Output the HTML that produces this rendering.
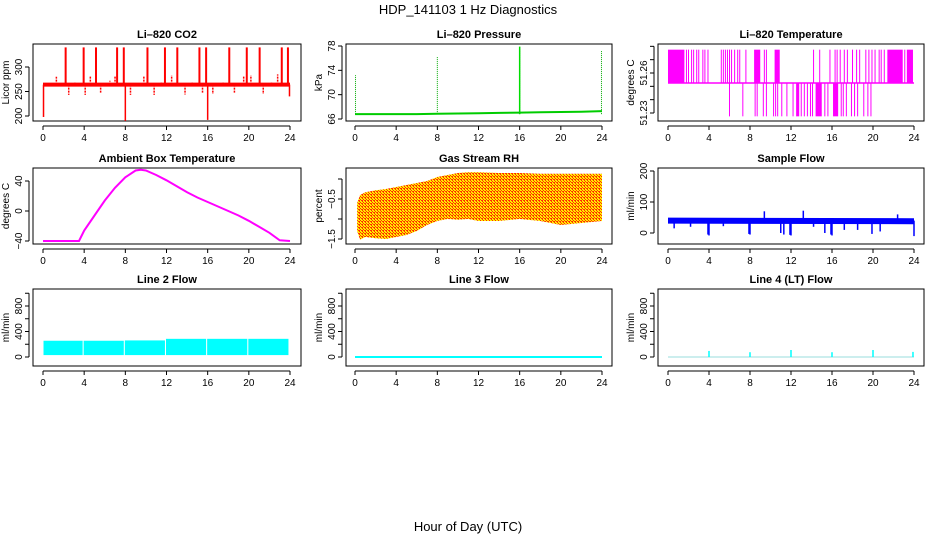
<!DOCTYPE html>
<html><head><meta charset="utf-8">
<style>
html,body{margin:0;padding:0;background:#fff;}
svg{display:block;font-family:"Liberation Sans",sans-serif;}
</style></head>
<body>
<svg id="chart" width="936" height="540" viewBox="0 0 936 540" xmlns="http://www.w3.org/2000/svg">
<defs>
<pattern id="rhpat" width="3" height="3" patternUnits="userSpaceOnUse">
<rect width="3" height="3" fill="#ff3000"/>
<rect x="0" y="0" width="2" height="1" fill="#ffee00"/>
<rect x="1" y="1" width="2" height="1" fill="#ffee00"/>
<rect x="0" y="2" width="1" height="1" fill="#ffee00"/>
</pattern>
</defs>
<text x="468" y="14" text-anchor="middle" font-size="13">HDP_141103  1 Hz Diagnostics</text>
<text x="468" y="531" text-anchor="middle" font-size="13">Hour of Day (UTC)</text>
</svg>
<script>
// ---------- data ----------
const xTicks=[0,4,8,12,16,20,24];
const co2Base=[[0,264],[24,264]];
const co2SpikeHours=[2.2,3.95,5.15,7.2,7.85,10.15,11.85,13.05,15.2,15.85,18.1,19.8,21.05,23.2,23.8];
const co2SpikeValues=[340,340,340,340,340,340,340,340,340,340,340,340,340,340,340];
const co2BumpHours=[1.3,2.5,3.1,4.1,4.6,5.6,6.5,7.0,8.5,9.8,10.8,11.5,12.5,13.8,14.5,15.5,16.5,17.5,18.6,19.5,20.2,21.4,22.2,22.8];
const co2BumpValues=[280,243,268,243,282,246,272,282,243,282,243,270,283,244,270,246,245,270,246,281,283,245,270,285];
const co2DipHours=[0.05,8.0,16.0,23.95];
const co2DipValues=[198,190,192,240];
const presHours=[0,2,4,6,8,10,12,14,16,18,20,22,24];
const presValues=[66.8,66.8,66.8,66.8,66.85,66.9,66.95,67.0,67.05,67.1,67.15,67.2,67.3];
const presSpikeHours=[0.05,8.0,16.0,23.95];
const presSpikeValues=[73.2,76.2,77.9,77.2];
const tempMid=51.2525, tempHigh=51.2775, tempLow=51.2275;
const tempHighBlocks=[[0,1.6],[8.4,9.0],[10.4,10.9],[21.4,22.9],[23.3,23.9]];
const tempHighHours=[1.8,2.0,2.3,2.5,2.8,3.0,3.4,3.6,3.9,5.2,5.4,5.6,5.8,6.0,6.2,6.5,6.8,7.0,7.6,9.4,9.6,14.2,14.8,15.8,16.3,16.5,16.8,17.2,17.5,18.0,18.4,18.7,19.3,19.6,19.9,20.2,20.6,20.8,21.1,23.1];
const tempLowBlocks=[[14.4,15.0],[16.1,16.6],[12.5,12.8]];
const tempLowHours=[6.0,7.3,8.5,8.7,9.3,9.6,10.3,10.5,10.7,11.1,11.6,12.2,13.0,13.3,13.6,13.9,14.1,15.3,15.6,16.9,17.1,17.4,17.9,18.2,18.5,19.1,19.5,19.8];
const ambHours=[0,1,2,3,3.5,4,5,6,7,8,9,9.5,10,11,12,13,14,15,16,17,18,19,20,21,22,23,24];
const ambValues=[-40,-40,-40,-40,-40,-26,-6,14,31,45,54,55,54,48,41,33,25,18,12,6,0,-6,-13,-21,-29,-39,-40];
const rhHours=[0.2,0.5,1,2,3,4,5,6,7,8,9,10,11,12,14,16,18,20,22,24];
const rhUpper=[-0.6,-0.4,-0.33,-0.28,-0.25,-0.2,-0.15,-0.1,-0.05,0.05,0.1,0.15,0.17,0.17,0.15,0.15,0.13,0.13,0.13,0.13];
const rhLower=[-1.3,-1.52,-1.45,-1.48,-1.5,-1.45,-1.4,-1.3,-1.15,-1.05,-1.0,-1.02,-1.0,-1.05,-1.05,-1.0,-1.05,-1.15,-1.1,-1.05];
const sfBase=[[0,40],[24,38]];
const sfSpikeHours=[0.6,2.2,3.9,4.0,5.4,7.9,8.0,9.4,11.0,11.3,11.9,12.0,13.2,14.2,15.3,15.9,16.0,17.2,18.5,19.9,20.7,22.4,24.0];
const sfSpikeValues=[15,20,-5,-8,22,-3,-5,70,0,-5,-6,-8,72,20,0,-5,-8,10,10,-3,5,60,-10];
const l2Segments=[[0.05,3.85],[3.95,7.85],[7.95,11.85],[11.95,15.85],[15.95,19.85],[19.95,23.85]];
const l2Top=[255,255,260,285,285,285];
const l2Bottom=[30,30,30,30,30,30];
const l3Hours=[0,24];
const l3Values=[0,0];
const l4SpikeHours=[4.0,8.0,12.0,16.0,20.0,23.9];
const l4SpikeValues=[95,75,110,75,110,80];

// ---------- layout ----------
const NS="http://www.w3.org/2000/svg";
const svg=document.getElementById('chart');
const cols=[{x0:33,x1:301,d0:43,d24:290},{x0:346,x1:612,d0:355,d24:602},{x0:658,x1:924,d0:668,d24:914}];
const rows=[{y0:44,y1:121},{y0:168,y1:244},{y0:289,y1:366}];
function mk(tag,attrs,parent){const e=document.createElementNS(NS,tag);for(const k in attrs)e.setAttribute(k,attrs[k]);(parent||svg).appendChild(e);return e;}

function panel(name,title,ytitle,c,r,v1,p1,v2,p2,yTicks,yLabels){
  const col=cols[c],row=rows[r];
  const g=mk('g',{});
  
  
  const X=h=>col.d0+(col.d24-col.d0)*h/24;
  const Y=v=>p1+(v-v1)*(p2-p1)/(v2-v1);
  const box=mk('rect',{x:col.x0,y:row.y0,width:col.x1-col.x0,height:row.y1-row.y0,fill:'none',stroke:'#000','stroke-width':1},g);
  
  
  const t=mk('text',{x:(col.x0+col.x1)/2,y:row.y0-6,'text-anchor':'middle','font-size':11,'font-weight':'bold'},g);
  t.textContent=title;
  
  
  const ay=row.y1+5;
  const xl=mk('line',{x1:X(0),x2:X(24),y1:ay,y2:ay,stroke:'#000'},g);
  
  
  xTicks.forEach(tk=>{
    mk('line',{x1:X(tk),x2:X(tk),y1:ay,y2:ay+4,stroke:'#000'},g);
    const tl=mk('text',{x:X(tk),y:ay+15,'text-anchor':'middle','font-size':10},g);
    tl.textContent=tk;
    
    
  });
  const ax=col.x0-4;
  const yl=mk('line',{x1:ax,x2:ax,y1:Y(yTicks[0]),y2:Y(yTicks[yTicks.length-1]),stroke:'#000'},g);
  
  
  yTicks.forEach(tk=>{mk('line',{x1:ax-4,x2:ax,y1:Y(tk),y2:Y(tk),stroke:'#000'},g);});
  yLabels.forEach(lb=>{
    const tl=mk('text',{transform:`translate(${ax-7},${Y(lb[0])}) rotate(-90)`,'text-anchor':'middle','font-size':10},g);
    tl.textContent=lb[1];
    
    
  });
  const yt=mk('text',{transform:`translate(${col.x0-24},${(row.y0+row.y1)/2}) rotate(-90)`,'text-anchor':'middle','font-size':10},g);
  yt.textContent=ytitle;
  
  
  const clip='clip'+name;
  const cp=mk('clipPath',{id:clip},g);
  mk('rect',{x:col.x0,y:row.y0,width:col.x1-col.x0,height:row.y1-row.y0},cp);
  const d=mk('g',{'clip-path':`url(#${clip})`},g);
  
  
  return {X,Y,g:d};
}
function vline(p,h,a,b,color,w,dash){const l=mk('line',{x1:p.X(h),x2:p.X(h),y1:p.Y(a),y2:p.Y(b),stroke:color,'stroke-width':w||1},p.g);if(dash)l.setAttribute('stroke-dasharray',dash);return l;}
function path(p,hs,vs,color,w){const dd=hs.map((h,i)=>(i?'L':'M')+p.X(h).toFixed(1)+','+p.Y(vs[i]).toFixed(1)).join('');const e=mk('path',{d:dd,fill:'none',stroke:color,'stroke-width':w||1},p.g);return e;}

// CO2
let p=panel('co2-panel','Li\u2013820 CO2','Licor ppm',0,0,200,116,300,67,[200,250,300],[[200,'200'],[250,'250'],[300,'300']]);
co2SpikeHours.forEach((h,i)=>vline(p,h,264,co2SpikeValues[i],'#ff0000',2));
co2BumpHours.forEach((h,i)=>vline(p,h,264,co2BumpValues[i],'#ff0000',1.5,'2,1'));
co2DipHours.forEach((h,i)=>vline(p,h,264,co2DipValues[i],'#ff0000',1.5));
path(p,co2Base.map(a=>a[0]),co2Base.map(a=>a[1]),'#ff0000',4);

// Pressure
p=panel('pressure-panel','Li\u2013820 Pressure','kPa',1,0,66,119,78,46,[66,70,74,78],[[66,'66'],[70,'70'],[74,'74'],[78,'78']]);
presSpikeHours.forEach((h,i)=>vline(p,h,66.8,presSpikeValues[i],'#00aa00',1,'1,1'));
vline(p,16.0,66.8,77.9,'#00dd00',1.5);
path(p,presHours,presValues,'#00cc00',2);

// Temperature
p=panel('temperature-panel','Li\u2013820 Temperature','degrees C',2,0,51.23,113,51.26,73,[51.23,51.24,51.25,51.26,51.27,51.28],[[51.23,'51.23'],[51.26,'51.26']]);
tempHighBlocks.forEach(b=>{const r=mk('rect',{x:p.X(b[0]),y:p.Y(tempHigh),width:p.X(b[1])-p.X(b[0]),height:p.Y(tempMid)-p.Y(tempHigh),fill:'#ff00ff'},p.g);});
tempLowBlocks.forEach(b=>{const r=mk('rect',{x:p.X(b[0]),y:p.Y(tempMid),width:p.X(b[1])-p.X(b[0]),height:p.Y(tempLow)-p.Y(tempMid),fill:'#ff00ff'},p.g);});
tempHighHours.forEach(h=>vline(p,h,tempMid,tempHigh,'#ff00ff',1));
tempLowHours.forEach(h=>vline(p,h,tempMid,tempLow,'#ff00ff',1));
path(p,[0,24],[tempMid,tempMid],'#ff00ff',1.5);

// Ambient
p=panel('ambient-temp-panel','Ambient Box Temperature','degrees C',0,1,-40,241,40,181,[-40,0,40],[[-40,'\u221240'],[0,'0'],[40,'40']]);
path(p,ambHours,ambValues,'#ff00ff',2);

// RH
p=panel('rh-panel','Gas Stream RH','percent',1,1,-1.5,239,-0.5,199,[-1.5,-1,-0.5,0],[[-1.5,'\u22121.5'],[-0.5,'\u22120.5']]);
{const pts=rhHours.map((h,i)=>p.X(h).toFixed(1)+','+p.Y(rhUpper[i]).toFixed(1)).concat(rhHours.slice().reverse().map((h,i)=>p.X(h).toFixed(1)+','+p.Y(rhLower[rhHours.length-1-i]).toFixed(1))).join(' ');
const e=mk('polygon',{points:pts,fill:'url(#rhpat)'},p.g);}

// Sample flow
p=panel('sample-flow-panel','Sample Flow','ml/min',2,1,0,233,100,202,[0,100,200],[[0,'0'],[100,'100'],[200,'200']]);
sfSpikeHours.forEach((h,i)=>vline(p,h,40,sfSpikeValues[i],'#0000ff',1.5));
path(p,sfBase.map(a=>a[0]),sfBase.map(a=>a[1]),'#0000ff',6);

// Line 2
const flowTicks=[0,200,400,600,800,1000];
const flowLabels=[[0,'0'],[400,'400'],[800,'800']];
p=panel('line2-flow-panel','Line 2 Flow','ml/min',0,2,0,357,400,331.5,flowTicks,flowLabels);
l2Segments.forEach((s,i)=>{const r=mk('rect',{x:p.X(s[0]),y:p.Y(l2Top[i]),width:p.X(s[1])-p.X(s[0]),height:p.Y(l2Bottom[i])-p.Y(l2Top[i]),fill:'#00ffff'},p.g);});

// Line 3
p=panel('line3-flow-panel','Line 3 Flow','ml/min',1,2,0,357,400,331.5,flowTicks,flowLabels);
path(p,l3Hours,l3Values,'#00ffff',2);

// Line 4
p=panel('line4-flow-panel','Line 4 (LT) Flow','ml/min',2,2,0,357,400,331.5,flowTicks,flowLabels);
path(p,[0,24],[0,0],'#99dddd',1);
l4SpikeHours.forEach((h,i)=>vline(p,h,0,l4SpikeValues[i],'#00ffff',1.5));
</script>
</body></html>
